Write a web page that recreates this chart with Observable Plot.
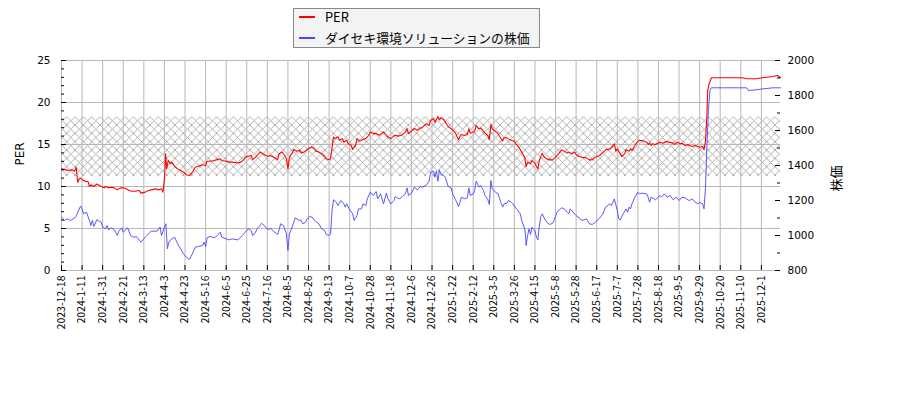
<!DOCTYPE html>
<html><head><meta charset="utf-8">
<script src="https://cdn.jsdelivr.net/npm/d3@7"></script>
<script src="https://cdn.jsdelivr.net/npm/@observablehq/plot@0.6"></script>
<style>
body{margin:0;background:#fff;}
#wrap{position:relative;width:900px;height:400px;}
#legend{position:absolute;left:293px;top:8px;width:245px;height:38px;border:1px solid #888;background:#f3f3f3;font-family:"Noto Sans CJK JP",sans-serif;font-size:12.8px;color:#000;}
.row{position:absolute;left:0;height:20px;line-height:20px;}
.sw{position:absolute;left:5px;top:9px;width:16px;height:2px;}
.lb{position:absolute;left:31px;top:0;white-space:nowrap;}
</style></head>
<body>
<div id="wrap">
  <div id="chart"></div>
  <div id="legend"></div>
</div>
<script>
// x = trading-day index; tick every 14 trading days
const tickLabels = ["2023-12-18","2024-1-11","2024-1-31","2024-2-21","2024-3-13","2024-4-3","2024-4-23","2024-5-16","2024-6-5","2024-6-25","2024-7-16","2024-8-5","2024-8-26","2024-9-13","2024-10-7","2024-10-28","2024-11-18","2024-12-6","2024-12-26","2025-1-22","2025-2-12","2025-3-5","2025-3-26","2025-4-15","2025-5-8","2025-5-28","2025-6-17","2025-7-7","2025-7-28","2025-8-18","2025-9-5","2025-9-29","2025-10-20","2025-11-10","2025-12-1"];
const tickStep = 14;
const lastIndex = 489;

const perIdx = [0,3,5,7,9,10,11,12,13,15,17,18,19,20,22,24,25,27,29,30,32,34,36,38,40,42,44,46,48,50,53,54,57,59,61,64,66,68,69,70,70.8,71.5,72.6,74,75,77,79,81,83,85,87,89,91,93,96,98,99,101,104,106,108,109,112,114,116,120,122,124,125,127,129,130,132,134,135,137,139,141,142,144,146,147,148,150,151,153,154,155,157,158,160,162,163,165,167,168,170,172,173,175,177,179,180,182,183,185,186,188,189,191,192,194,195,197,198,200,201,203,205,207,209,210,212,214,216,217,219,221,222,224,226,227,229,231,232,234,235,236,238,240,242,244,245,248,250,251,253,254,256,257,258,260,261,263,265,266,268,270,271,272,274,276,277,278,280,281,282,284,285,287,288,290,291,292,293,295,297,298,300,301,303,304,306,308,309,311,313,315,315.5,316,317,319,320,322,323,324,325,327,328,330,332,334,336,339,340,342,344,345,347,349,350,352,354,357,359,361,363,366,368,370,373,374,376,377,378,380,381,383,384,386,387,388,390,392,393,395,398,399,400,401,402,404,407,409,411,413,416,417,419,421,422,424,426,427,429,431,433,434,436,437,438,439,439.5,440.5,442,450,458,463,466,472,477,484,487,489];
const perVal = [12.1,11.98,11.9,11.98,11.83,12.3,10.5,10.9,11.0,10.7,10.6,10.6,10.0,10.2,10.0,10.3,10.2,10.0,9.84,10.0,9.84,9.92,9.84,9.6,9.84,9.84,9.72,9.52,9.44,9.44,9.52,9.21,9.33,9.52,9.6,9.72,9.6,9.72,9.33,10.9,13.9,12.1,13.1,12.7,12.9,12.4,12.1,11.9,11.7,11.4,11.3,11.7,12.3,12.4,12.6,12.5,13.0,13.0,13.1,13.2,13.3,13.1,13.0,12.9,12.9,12.8,12.9,13.2,13.5,13.6,13.7,13.2,13.5,13.9,14.1,13.9,13.7,13.6,13.7,13.5,13.3,13.2,13.9,14.1,13.9,13.3,12.1,13.5,14.0,14.4,14.2,14.3,14.0,14.1,14.4,14.5,14.7,14.5,14.2,14.1,13.9,13.6,13.3,13.2,13.3,15.9,15.7,15.9,15.5,15.7,15.3,15.5,15.1,14.9,14.4,14.9,15.7,15.4,15.6,15.7,16.1,16.5,16.3,16.3,16.1,16.2,16.5,16.1,15.9,15.7,16.0,16.1,16.0,16.1,16.2,16.5,16.9,16.3,16.6,16.9,16.7,16.98,16.98,17.46,17.26,17.86,18.06,17.66,18.33,17.94,18.17,17.94,17.66,17.14,16.87,16.75,16.35,15.56,15.95,16.19,16.07,16.19,16.87,16.35,16.47,16.59,17.26,16.87,16.98,16.59,16.35,16.07,15.56,17.38,16.87,16.59,16.27,15.95,15.4,15.8,15.8,15.67,15.48,15.4,15.08,14.68,14.09,13.49,12.9,12.38,12.9,12.7,13.1,12.78,12.38,12.1,13.17,13.97,13.57,13.29,13.17,13.17,13.49,14.09,14.37,14.21,13.97,14.09,13.89,14.09,13.81,13.57,13.49,13.41,13.17,13.17,13.49,13.69,14.0,14.37,14.48,14.6,15.08,14.21,14.48,13.89,13.57,13.89,14.37,14.21,14.48,14.29,14.88,15.4,15.48,15.48,15.28,15.0,15.16,14.88,15.08,15.0,15.28,15.16,15.36,15.28,15.16,15.0,15.28,15.08,15.16,14.88,15.0,14.88,14.76,14.88,14.76,14.68,14.76,14.37,15.48,18.65,21.43,22.22,22.94,22.94,22.94,22.94,22.82,22.82,22.94,23.1,23.21,22.94];

const priceIdx = [0,2,4,6,8,10,11,13,14,15,17,19,20,21,22,24,25,27,28,30,31,32,34,36,38,39,41,42,45,47,49,51,54,56,58,61,63,65,67,68,70,71,72,73,75,77,79,81,83,85,87,89,91,93,96,97,98,99,101,104,106,108,109,112,114,116,120,123,125,127,129,130,132,133,135,136,138,139,141,142,144,146,147,148,149,151,153,154,155,156,158,159,161,163,164,166,167,169,171,172,175,177,179,180,182,183,184,185,187,188,190,192,193,194,196,198,199,201,202,204,205,207,208,210,212,214,215,217,219,221,222,224,226,227,228,230,232,234,235,236,238,240,242,244,245,248,250,251,253,254,255,256,257,258,260,261,263,265,266,268,270,271,272,274,276,277,278,280,281,282,284,285,287,288,290,291,292,293,295,297,298,300,301,303,304,306,307,309,310,312,313,315,315.5,316,317,318,319,320,322,323,324,324.7,326,327,328,330,332,334,335,337,340,342,344,345,346,348,350,352,354,357,359,361,363,366,368,370,373,374,376,378,379,380,382,384,385,386,387,388,390,392,393,395,398,399,400,401,402,404,407,408,410,412,414,416,418,420,422,424,426,427,429,431,433,434,436,437,438,439,440,441,442,450,458,466,467,472,477,484,489];
const priceVal = [1105,1086,1095,1086,1095,1109,1133,1168,1152,1124,1133,1086,1057,1086,1051,1090,1086,1076,1048,1038,1057,1032,1044,1032,1000,1025,1044,1019,1044,1000,990,994,962,981,1000,1025,1025,1025,1048,1000,1048,1067,924,962,981,990,952,924,895,876,863,895,933,937,943,962,937,987,994,987,1000,1019,990,981,975,981,975,1000,1019,1038,1028,1000,1019,1038,1057,1070,1057,1044,1032,1044,1025,1013,1006,1032,1067,1057,1009,914,1009,1028,1076,1101,1089,1086,1067,1076,1095,1109,1101,1086,1067,1038,1028,1006,1000,1009,1143,1204,1190,1171,1200,1181,1162,1181,1147,1124,1086,1114,1152,1152,1181,1171,1210,1248,1229,1251,1210,1238,1181,1242,1210,1181,1200,1223,1215,1210,1223,1242,1272,1229,1242,1276,1261,1280,1276,1286,1310,1362,1368,1333,1368,1310,1375,1352,1343,1333,1280,1272,1238,1204,1166,1190,1219,1210,1215,1272,1229,1238,1257,1310,1276,1286,1257,1229,1204,1177,1314,1267,1248,1238,1210,1162,1181,1185,1200,1190,1181,1158,1147,1124,1086,1038,1009,943,1000,1038,1006,1048,1028,990,975,1038,1109,1124,1105,1076,1063,1070,1086,1133,1158,1152,1133,1124,1152,1133,1114,1101,1086,1095,1067,1063,1076,1100,1120,1162,1181,1171,1209,1143,1095,1089,1124,1152,1133,1162,1152,1181,1219,1248,1238,1242,1238,1219,1190,1219,1215,1204,1229,1219,1238,1219,1229,1204,1219,1200,1219,1215,1204,1200,1209,1190,1181,1190,1181,1152,1276,1524,1714,1829,1844,1844,1844,1844,1829,1832,1838,1844,1844];

const bandLow = 11.2, bandHigh = 18.25;
const perMajor = [0,5,10,15,20,25];
const perMinor = d3.range(0, 26).filter(v => v % 5 !== 0);
const priceMajor = [800,1000,1200,1400,1600,1800,2000];
const priceMinor = [900,1100,1300,1500,1700,1900];
const priceMin = 800, priceMax = 2000, perMax = 25;

const toPER = p => (p - priceMin) / (priceMax - priceMin) * perMax;
const fromPER = v => String(Math.round(v / perMax * (priceMax - priceMin) + priceMin));

const perRows = perIdx.map((i, k) => ({i, v: perVal[k]}));
const priceRows = priceIdx.map((i, k) => ({i, v: toPER(priceVal[k])}));
const tickIdx = tickLabels.map((_, k) => k * tickStep);
const band = [{lo: bandLow, hi: bandHigh}];

const RED = "#ff0000", BLUE = "#4646ff", GRID = "#b8b8b8";
const W = 900, H = 400, ML = 61, MR = 120, MT = 60, MB = 130;
const plotW = W - ML - MR, plotH = H - MT - MB;
const majorLen = 5, minorLen = 3;

const plot = Plot.plot({
  width: W, height: H,
  marginLeft: ML, marginRight: MR, marginTop: MT, marginBottom: MB,
  style: {fontFamily: "DejaVu Sans", fontSize: "10.5px", background: "transparent", color: "#000"},
  x: {domain: [0, lastIndex], axis: null, label: null},
  y: {domain: [0, perMax], axis: null, label: null},
  marks: [
    Plot.rect(band, {y1: "lo", y2: "hi", fill: "url(#hatch)"}),
    Plot.gridX({ticks: tickIdx, stroke: GRID, strokeOpacity: 1, strokeWidth: 1}),
    Plot.gridY({ticks: perMajor, stroke: GRID, strokeOpacity: 1, strokeWidth: 1}),
    Plot.line(priceRows, {x: "i", y: "v", stroke: BLUE, strokeWidth: 0.9}),
    Plot.line(perRows, {x: "i", y: "v", stroke: RED, strokeWidth: 1.1}),
    // inward tick marks
    Plot.tickY(perMajor, {y: d => d, stroke: "#000", insetRight: plotW - majorLen}),
    Plot.tickY(perMinor, {y: d => d, stroke: "#000", insetRight: plotW - minorLen}),
    Plot.tickY(priceMajor.map(toPER), {y: d => d, stroke: "#000", insetLeft: plotW - majorLen}),
    Plot.tickY(priceMinor.map(toPER), {y: d => d, stroke: "#000", insetLeft: plotW - minorLen}),
    Plot.tickX(tickIdx, {x: d => d, stroke: "#000", insetTop: plotH - majorLen}),
    // axis lines and labels
    Plot.axisY({ticks: perMajor, anchor: "left", tickSize: 0, tickPadding: 11, line: true, label: null}),
    Plot.axisY({ticks: priceMajor.map(toPER), anchor: "right", tickSize: 0, tickPadding: 7, tickFormat: d => fromPER(d), line: true, label: null}),
    Plot.axisX({ticks: tickIdx, anchor: "bottom", tickSize: 0, tickPadding: 5, tickRotate: -90,
      tickFormat: d => tickLabels[Math.round(d / tickStep)], line: true, label: null,
      fontFamily: "Noto Sans CJK JP", fontSize: 10.5}),
    Plot.text(["PER"], {text: d => d, frameAnchor: "left", rotate: -90, dx: -41, fontSize: 12, fontFamily: "DejaVu Sans"}),
    Plot.text(["株価"], {text: d => d, frameAnchor: "right", rotate: -90, dx: 56, fontSize: 13, fontFamily: "Noto Sans CJK JP"})
  ]
});

d3.select(plot).insert("defs", ":first-child").html(
  '<pattern id="hatch" patternUnits="userSpaceOnUse" width="8.333" height="8.333">' +
  '<path d="M-1,-1L9.333,9.333M9.333,-1L-1,9.333" stroke="#a6a6a6" stroke-width="0.9" fill="none"/></pattern>');

document.getElementById("chart").appendChild(plot);

// legend
const legendItems = [{label: "PER", color: RED}, {label: "ダイセキ環境ソリューションの株価", color: BLUE}];
const leg = d3.select("#legend");
legendItems.forEach((it, k) => {
  const row = leg.append("div").attr("class", "row").style("top", (k * 21 - 2) + "px");
  row.append("div").attr("class", "sw").style("background", it.color);
  row.append("div").attr("class", "lb").text(it.label);
});
</script>
</body></html>
